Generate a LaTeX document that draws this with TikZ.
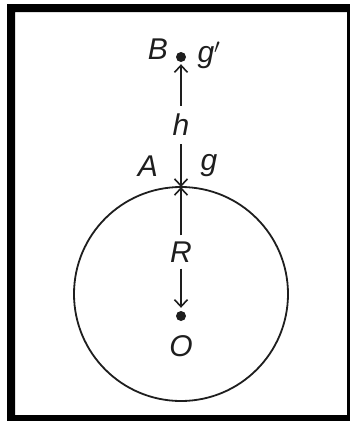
\documentclass[tikz,border=0pt]{standalone}
\usepackage{fontspec}
\setmainfont{Liberation Sans}
\usetikzlibrary{arrows.meta}
\definecolor{ink}{HTML}{1E1E1E}
\begin{document}
\begin{tikzpicture}[x=1pt,y=-1pt,
  lbl/.style={font=\fontsize{30}{30}\selectfont\itshape, text=ink, inner sep=0pt},
  gap/.style={font=\fontsize{30}{30}\selectfont\itshape, text=ink, inner sep=0pt},
  arr/.style={draw=ink, line width=1.8pt, -{Straight Barb[length=7pt,width=13pt,line width=1.6pt]}},
  dotc/.style={circle, fill=ink, inner sep=0pt, minimum size=10pt}]
\useasboundingbox (0,0) rectangle (350,421);
% frame
\fill[black, even odd rule] (7,4) rectangle (352,423) (15,12) rectangle (347,415);
% earth
\draw[ink, line width=1.8pt] (181,294) circle (107);
\node[dotc] (B) at (181,57) {};
\node[dotc] (O) at (181,316) {};
\coordinate (A) at (181,187);
\node[gap, minimum height=38pt] (h) at (181,125) {h};
\node[gap, minimum height=33pt] (R) at (181,252) {R};
\draw[arr] (h) -- (A);
\draw[arr, shorten >=2pt] (h) -- (B.south);
\draw[arr] (R) -- (A);
\draw[arr, shorten >=3pt] (R) -- (O.north);
% labels
\node[lbl] (lB) at (158,49) {B};
\node[lbl] (lg1) at (209,55) {g$'$};
\node[lbl] (lA) at (148,166) {A};
\node[lbl] (lg) at (209,166) {g};
\node[lbl] (lO) at (181,346) {O};
\end{tikzpicture}
\end{document}
